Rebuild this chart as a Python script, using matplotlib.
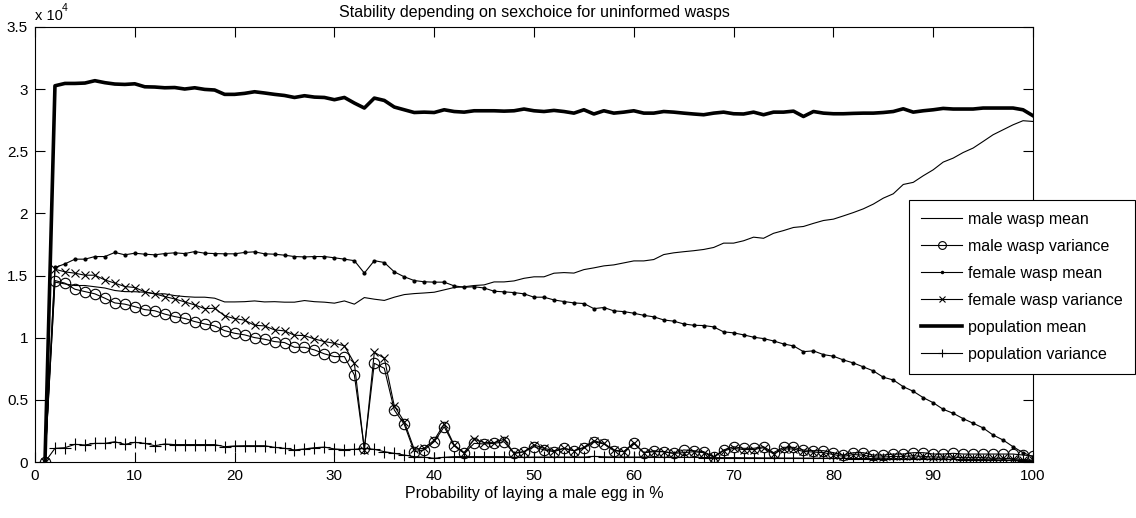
import matplotlib
matplotlib.use("Agg")
import matplotlib.pyplot as plt
import numpy as np

plt.rcParams['font.family'] = ['Liberation Sans', 'DejaVu Sans']

# x: probability of laying a male egg in %
prob = list(range(1, 101))

# all values in units of 1e4
male_mean = [0, 1.447, 1.433, 1.42, 1.42, 1.41, 1.40, 1.38, 1.371, 1.37,
             1.366, 1.353, 1.353, 1.339, 1.331, 1.326, 1.326, 1.318, 1.288, 1.288,
             1.29, 1.296, 1.288, 1.29, 1.286, 1.286, 1.299, 1.29, 1.286, 1.278,
             1.296, 1.27, 1.323, 1.31, 1.30, 1.326, 1.347, 1.355, 1.36, 1.366,
             1.385, 1.404, 1.41, 1.42, 1.425, 1.449, 1.449, 1.457, 1.478, 1.49,
             1.49, 1.519, 1.524, 1.52, 1.548, 1.562, 1.578, 1.586, 1.602, 1.618,
             1.618, 1.629, 1.669, 1.683, 1.692, 1.70, 1.71, 1.726, 1.761, 1.761,
             1.78, 1.809, 1.80, 1.84, 1.862, 1.887, 1.895, 1.92, 1.943, 1.954,
             1.98, 2.007, 2.037, 2.075, 2.123, 2.158, 2.233, 2.25, 2.303, 2.351,
             2.413, 2.445, 2.49, 2.526, 2.579, 2.633, 2.673, 2.713, 2.746, 2.74]

male_var = [0, 1.46, 1.439, 1.39, 1.371, 1.353, 1.318, 1.28, 1.27, 1.25,
            1.226, 1.217, 1.19, 1.17, 1.155, 1.13, 1.111, 1.095, 1.057, 1.036,
            1.023, 1.001, 0.988, 0.969, 0.961, 0.923, 0.923, 0.902, 0.87, 0.848,
            0.848, 0.70, 0.11, 0.794, 0.754, 0.419, 0.303, 0.083, 0.097, 0.163,
            0.284, 0.131, 0.07, 0.15, 0.145, 0.15, 0.163, 0.07, 0.083, 0.123,
            0.097, 0.083, 0.11, 0.091, 0.11, 0.163, 0.145, 0.091, 0.083, 0.15,
            0.075, 0.091, 0.083, 0.07, 0.097, 0.091, 0.083, 0.043, 0.097, 0.123,
            0.11, 0.11, 0.123, 0.075, 0.118, 0.118, 0.097, 0.091, 0.091, 0.075,
            0.056, 0.075, 0.075, 0.056, 0.056, 0.064, 0.064, 0.075, 0.075, 0.064,
            0.064, 0.07, 0.064, 0.064, 0.064, 0.064, 0.064, 0.064, 0.056, 0.048]

female_mean = [0, 1.565, 1.594, 1.632, 1.632, 1.653, 1.653, 1.686, 1.667, 1.68,
               1.672, 1.667, 1.677, 1.683, 1.677, 1.693, 1.68, 1.677, 1.675, 1.675,
               1.686, 1.691, 1.675, 1.672, 1.664, 1.653, 1.65, 1.653, 1.653, 1.643,
               1.632, 1.62, 1.52, 1.62, 1.605, 1.53, 1.49, 1.46, 1.45, 1.447,
               1.447, 1.417, 1.406, 1.41, 1.40, 1.374, 1.369, 1.363, 1.353, 1.326,
               1.326, 1.304, 1.291, 1.28, 1.275, 1.234, 1.243, 1.216, 1.21, 1.197,
               1.18, 1.168, 1.143, 1.133, 1.111, 1.10, 1.098, 1.087, 1.047, 1.039,
               1.023, 1.004, 0.993, 0.974, 0.95, 0.934, 0.888, 0.894, 0.864, 0.851,
               0.821, 0.797, 0.765, 0.733, 0.682, 0.66, 0.606, 0.569, 0.518, 0.477,
               0.424, 0.392, 0.349, 0.312, 0.274, 0.217, 0.177, 0.123, 0.075, 0.043]

female_var = [0, 1.551, 1.53, 1.519, 1.503, 1.503, 1.465, 1.439, 1.412, 1.404,
              1.369, 1.353, 1.331, 1.312, 1.288, 1.264, 1.234, 1.237, 1.176, 1.154,
              1.141, 1.10, 1.095, 1.063, 1.055, 1.02, 1.017, 0.99, 0.969, 0.955,
              0.935, 0.794, 0.097, 0.883, 0.835, 0.451, 0.324, 0.102, 0.11, 0.177,
              0.306, 0.137, 0.075, 0.183, 0.156, 0.156, 0.183, 0.07, 0.083, 0.137,
              0.11, 0.091, 0.11, 0.091, 0.118, 0.171, 0.15, 0.097, 0.083, 0.156,
              0.075, 0.083, 0.083, 0.07, 0.075, 0.083, 0.075, 0.04, 0.09, 0.11,
              0.10, 0.10, 0.115, 0.065, 0.105, 0.105, 0.085, 0.08, 0.075, 0.06,
              0.045, 0.06, 0.055, 0.04, 0.04, 0.045, 0.045, 0.05, 0.045, 0.04,
              0.04, 0.04, 0.035, 0.035, 0.035, 0.03, 0.03, 0.025, 0.02, 0.015]

pop_mean = [0, 3.027, 3.046, 3.046, 3.049, 3.068, 3.052, 3.041, 3.038, 3.043,
            3.019, 3.017, 3.011, 3.013, 3.001, 3.011, 2.998, 2.993, 2.958, 2.958,
            2.966, 2.979, 2.969, 2.958, 2.949, 2.933, 2.947, 2.936, 2.933, 2.915,
            2.933, 2.888, 2.848, 2.928, 2.909, 2.856, 2.834, 2.812, 2.815, 2.812,
            2.834, 2.82, 2.815, 2.826, 2.826, 2.826, 2.823, 2.826, 2.84, 2.826,
            2.82, 2.829, 2.82, 2.807, 2.834, 2.80, 2.826, 2.807, 2.815, 2.826,
            2.807, 2.807, 2.82, 2.815, 2.807, 2.80, 2.794, 2.807, 2.815, 2.802,
            2.80, 2.815, 2.794, 2.815, 2.815, 2.823, 2.78, 2.82, 2.807, 2.802,
            2.802, 2.805, 2.807, 2.807, 2.812, 2.82, 2.842, 2.815, 2.826, 2.834,
            2.845, 2.84, 2.84, 2.84, 2.848, 2.848, 2.848, 2.848, 2.834, 2.786]

pop_var = [0, 0.11, 0.115, 0.142, 0.137, 0.15, 0.15, 0.163, 0.142, 0.158,
           0.15, 0.131, 0.145, 0.14, 0.14, 0.14, 0.14, 0.14, 0.123, 0.129,
           0.131, 0.131, 0.131, 0.118, 0.11, 0.097, 0.105, 0.115, 0.12, 0.105,
           0.10, 0.102, 0.11, 0.102, 0.083, 0.07, 0.056, 0.043, 0.038, 0.03,
           0.038, 0.043, 0.043, 0.043, 0.043, 0.043, 0.043, 0.038, 0.038, 0.04,
           0.04, 0.04, 0.04, 0.04, 0.04, 0.045, 0.042, 0.04, 0.04, 0.04,
           0.04, 0.038, 0.038, 0.038, 0.037, 0.037, 0.036, 0.035, 0.035, 0.035,
           0.034, 0.034, 0.033, 0.033, 0.032, 0.032, 0.031, 0.031, 0.03, 0.03,
           0.029, 0.028, 0.028, 0.027, 0.026, 0.026, 0.025, 0.024, 0.024, 0.023,
           0.022, 0.021, 0.02, 0.02, 0.019, 0.018, 0.016, 0.014, 0.012, 0.01]

labels = ["male wasp mean", "male wasp variance", "female wasp mean",
          "female wasp variance", "population mean", "population variance"]
x_ticks = [0, 10, 20, 30, 40, 50, 60, 70, 80, 90, 100]
y_ticks = [0, 0.5, 1, 1.5, 2, 2.5, 3, 3.5]
y_tick_labels = ["0", "0.5", "1", "1.5", "2", "2.5", "3", "3.5"]

fig = plt.figure(figsize=(11.36, 5.18), dpi=100)
ax = fig.add_axes([35/1136, 56/518, (1033-35)/1136, (462-27)/518])

lw = 0.8
ax.plot(prob, male_mean, color='black', lw=lw, label=labels[0])
ax.plot(prob, male_var, color='black', lw=lw, marker='o', ms=7.5,
        mfc='none', mew=0.8, label=labels[1])
ax.plot(prob, female_mean, color='black', lw=lw, marker='.', ms=4,
        label=labels[2])
ax.plot(prob, female_var, color='black', lw=lw, marker='x', ms=5.5,
        mew=0.8, label=labels[3])
ax.plot(prob, pop_mean, color='black', lw=2.6, label=labels[4])
ax.plot(prob, pop_var, color='black', lw=lw, marker='+', ms=8,
        mew=0.8, label=labels[5])

ax.set_xlim(0, 100)
ax.set_ylim(0, 3.5)
ax.set_xticks(x_ticks)
ax.set_xticklabels([str(t) for t in x_ticks])
ax.set_yticks(y_ticks)
ax.set_yticklabels(y_tick_labels)
ax.tick_params(direction='in', length=7, width=0.8, top=True, right=True,
               labelsize=11, pad=5, colors='black')
for s in ax.spines.values():
    s.set_linewidth(0.8)

ax.set_xlabel("Probability of laying a male egg in %", fontsize=11.5, labelpad=2)
ax.set_title("Stability depending on sexchoice for uninformed wasps",
             fontsize=11.5, pad=7)
fig.text(35/1136, 1 - 20/518, "x 10", fontsize=10.5, ha='left', va='baseline')
fig.text(62/1136, 1 - 11/518, "4", fontsize=7.5, ha='left', va='baseline')

leg = ax.legend(loc='upper right', bbox_to_anchor=(1135/1136, 1 - 200/518),
                bbox_transform=fig.transFigure, fontsize=11.5, frameon=True,
                fancybox=False, framealpha=1, edgecolor='black',
                handlelength=2.55, labelspacing=0.75, borderpad=0.74,
                handletextpad=0.4, borderaxespad=0, markerscale=0.75)
leg.get_frame().set_linewidth(0.8)

fig.savefig("out.png", dpi=100)
